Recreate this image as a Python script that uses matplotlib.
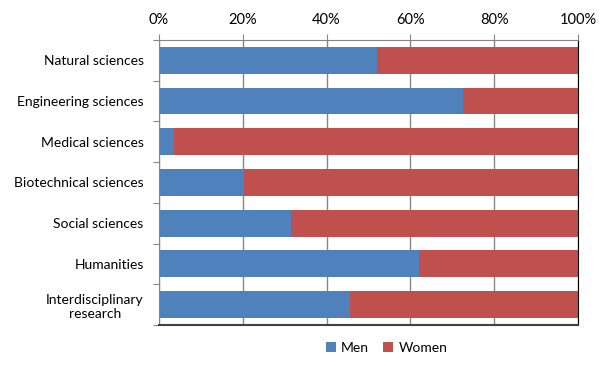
import matplotlib.pyplot as plt
from matplotlib.ticker import PercentFormatter

categories = ['Natural sciences', 'Engineering sciences', 'Medical sciences',
              'Biotechnical sciences', 'Social sciences', 'Humanities',
              'Interdisciplinary\nresearch']
men = [52.1, 72.5, 3.7, 20.3, 31.4, 62.0, 45.5]
women = [100 - m for m in men]

plt.rcParams['font.family'] = ['Lato', 'DejaVu Sans']

fig = plt.figure(figsize=(6.04, 3.66), dpi=100)
ax = fig.add_axes([0.2632, 0.112, 0.6938, 0.7788])

y = list(range(len(categories)))
ax.barh(y, men, height=0.66, color='#4F81BD', label='Men', zorder=2)
ax.barh(y, women, left=men, height=0.66, color='#C0504D', label='Women', zorder=2)

ax.set_xlim(0, 100)
ax.set_ylim(len(categories) - 0.5, -0.5)
ax.xaxis.tick_top()
ax.set_xticks([0, 20, 40, 60, 80, 100])
ax.xaxis.set_major_formatter(PercentFormatter(decimals=0))
ax.set_yticks([i + 0.5 for i in range(-1, len(categories))], minor=False)
ax.set_yticklabels([])
ax.set_yticks(y, minor=True)
ax.set_yticklabels(categories, minor=True, multialignment='center')
ax.tick_params(axis='y', which='minor', length=0, pad=11, labelsize=10)
ax.tick_params(axis='y', which='major', length=4, color='#868686')
ax.tick_params(axis='x', length=4, color='#868686', labelsize=10.5, pad=5)

ax.grid(axis='x', color='#868686', linewidth=1, zorder=0)
for s in ['left', 'top']:
    ax.spines[s].set_color('#868686')
ax.spines['bottom'].set_color('#404040')
ax.spines['bottom'].set_linewidth(1.5)
ax.spines['right'].set_color('black')

fig.legend(loc='lower center', bbox_to_anchor=(0.64, 0.0), ncol=2, frameon=False,
           fontsize=10, handlelength=0.7, handleheight=0.7, columnspacing=1.0,
           handletextpad=0.4)

fig.savefig('out.png', dpi=100)
